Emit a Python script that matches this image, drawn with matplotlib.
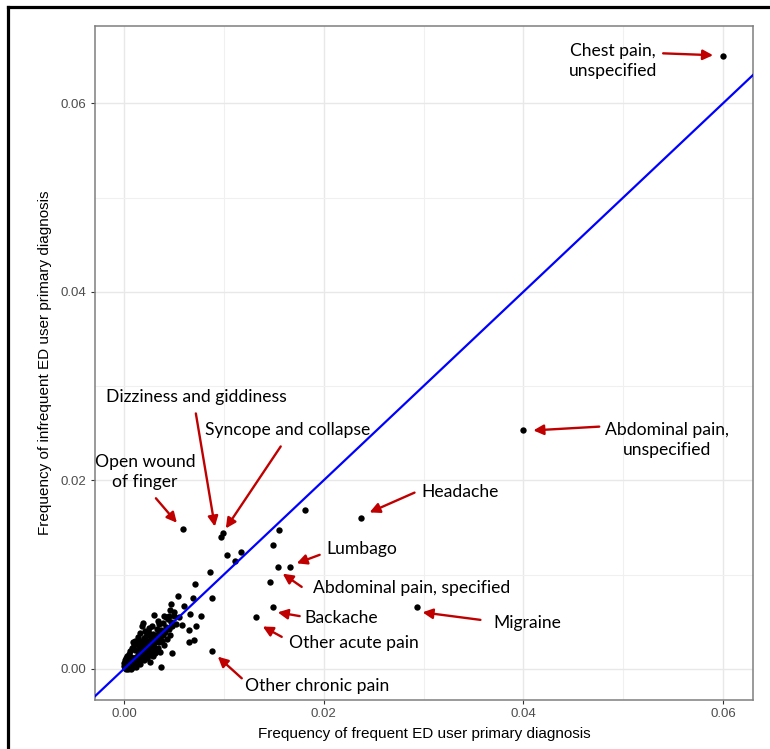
import matplotlib
matplotlib.use("Agg")
import matplotlib.pyplot as plt
from matplotlib.lines import Line2D
from matplotlib.ticker import MultipleLocator

# ---- data (frequency of diagnosis among frequent / infrequent ED users) ----
freq_frequent = [
    0.0600, 0.0400, 0.0237, 0.0293, 0.0166, 0.0154, 0.0146, 0.0149, 0.0132, 0.0088,
    0.0099, 0.0097, 0.0059, 0.0181, 0.0155, 0.0149, 0.0103, 0.0117, 0.0111, 0.0086,
    0.0071, 0.0054, 0.0069, 0.0088, 0.0047, 0.0060, 0.0066, 0.0077, 0.0030, 0.0045,
    0.0042, 0.0050, 0.0072, 0.0065, 0.0058, 0.0018, 0.0019, 0.0070, 0.0065, 0.0048,
    0.0037, 0.0026,
    0.0001, 0.0002, 0.0002, 0.0003, 0.0003, 0.0004, 0.0004, 0.0005, 0.0005, 0.0006,
    0.0006, 0.0007, 0.0007, 0.0008, 0.0008, 0.0009, 0.0009, 0.0010, 0.0010, 0.0010,
    0.0011, 0.0011, 0.0012, 0.0012, 0.0013, 0.0013, 0.0014, 0.0014, 0.0015, 0.0015,
    0.0016, 0.0016, 0.0017, 0.0017, 0.0018, 0.0018, 0.0019, 0.0019, 0.0020, 0.0020,
    0.0021, 0.0021, 0.0022, 0.0022, 0.0023, 0.0024, 0.0024, 0.0025, 0.0026, 0.0026,
    0.0027, 0.0028, 0.0028, 0.0029, 0.0030, 0.0030, 0.0031, 0.0032, 0.0032, 0.0033,
    0.0034, 0.0035, 0.0036, 0.0037, 0.0038, 0.0039, 0.0040, 0.0041, 0.0042, 0.0043,
    0.0045, 0.0046, 0.0048, 0.0000, 0.0000, 0.0001, 0.0002, 0.0003, 0.0005, 0.0006,
    0.0008, 0.0010, 0.0011, 0.0013, 0.0015, 0.0017, 0.0018, 0.0020, 0.0022, 0.0023,
    0.0025, 0.0027, 0.0012, 0.0016, 0.0020, 0.0023, 0.0026, 0.0029, 0.0031, 0.0034,
    0.0036, 0.0004, 0.0007, 0.0009, 0.0003, 0.0005, 0.0007, 0.0014, 0.0019, 0.0024,
    0.0029, 0.0033, 0.0035, 0.0028, 0.0039, 0.0044, 0.0040, 0.0034, 0.0047, 0.0052,
    0.0055, 0.0050, 0.0046, 0.0011, 0.0014, 0.0009, 0.0016, 0.0021, 0.0025,
]
freq_infrequent = [
    0.0650, 0.0253, 0.0160, 0.0066, 0.0108, 0.0108, 0.0092, 0.0066, 0.0055, 0.0019,
    0.0144, 0.0140, 0.0148, 0.0169, 0.0147, 0.0131, 0.0121, 0.0124, 0.0114, 0.0103,
    0.0090, 0.0077, 0.0075, 0.0075, 0.0069, 0.0067, 0.0058, 0.0056, 0.0057, 0.0056,
    0.0055, 0.0056, 0.0046, 0.0041, 0.0047, 0.0046, 0.0049, 0.0031, 0.0029, 0.0017,
    0.0002, 0.0007,
    0.0001, 0.0000, 0.0003, 0.0002, 0.0005, 0.0003, 0.0006, 0.0004, 0.0002, 0.0005,
    0.0008, 0.0006, 0.0003, 0.0009, 0.0005, 0.0007, 0.0011, 0.0008, 0.0012, 0.0004,
    0.0010, 0.0006, 0.0013, 0.0009, 0.0011, 0.0007, 0.0015, 0.0012, 0.0010, 0.0017,
    0.0014, 0.0009, 0.0018, 0.0012, 0.0015, 0.0022, 0.0017, 0.0011, 0.0021, 0.0016,
    0.0019, 0.0026, 0.0014, 0.0023, 0.0020, 0.0025, 0.0017, 0.0022, 0.0028, 0.0019,
    0.0024, 0.0031, 0.0020, 0.0026, 0.0033, 0.0023, 0.0029, 0.0035, 0.0021, 0.0030,
    0.0037, 0.0028, 0.0033, 0.0041, 0.0030, 0.0036, 0.0025, 0.0039, 0.0044, 0.0032,
    0.0042, 0.0036, 0.0046, 0.0003, 0.0006, 0.0009, 0.0012, 0.0014, 0.0016, 0.0019,
    0.0022, 0.0025, 0.0020, 0.0028, 0.0024, 0.0030, 0.0027, 0.0033, 0.0035, 0.0030,
    0.0038, 0.0034, 0.0002, 0.0005, 0.0009, 0.0012, 0.0015, 0.0014, 0.0017, 0.0022,
    0.0018, 0.0000, 0.0000, 0.0002, 0.0008, 0.0010, 0.0013, 0.0019, 0.0024, 0.0029,
    0.0037, 0.0042, 0.0048, 0.0045, 0.0049, 0.0053, 0.0056, 0.0051, 0.0050, 0.0048,
    0.0055, 0.0060, 0.0063, 0.0030, 0.0034, 0.0028, 0.0038, 0.0040, 0.0043,
]

# ---- annotations: label, text position, arrow tail, arrow head, alignment ----
ann_labels = ["Chest pain,\nunspecified", "Abdominal pain,\nunspecified", "Headache",
              "Lumbago", "Abdominal pain, specified", "Backache", "Other acute pain",
              "Other chronic pain", "Migraine", "Dizziness and giddiness",
              "Syncope and collapse", "Open wound\nof finger"]
ann_text_xy = [(0.0490, 0.0645), (0.0544, 0.0243), (0.0298, 0.0188), (0.0203, 0.0127),
               (0.0189, 0.0086), (0.0181, 0.0054), (0.0165, 0.0027), (0.0121, -0.0018),
               (0.0370, 0.0049), (-0.0018, 0.0288), (0.0081, 0.0253), (0.0021, 0.0209)]
ann_tail_xy = [(0.0540, 0.0653), (0.0476, 0.0257), (0.0291, 0.0187), (0.0196, 0.0121),
               (0.0178, 0.0087), (0.0176, 0.0056), (0.0158, 0.0034), (0.0118, -0.0010),
               (0.0357, 0.0052), (0.0072, 0.0271), (0.0157, 0.0236), (0.0032, 0.0181)]
ann_head_xy = [(0.0590, 0.0651), (0.0410, 0.0253), (0.0246, 0.0166), (0.0173, 0.0112),
               (0.0159, 0.0101), (0.0154, 0.0060), (0.0139, 0.0045), (0.0094, 0.0013),
               (0.0299, 0.0060), (0.0091, 0.0151), (0.0102, 0.0149), (0.0053, 0.0155)]
ann_ha = ["center", "center", "left", "left", "left", "left", "left", "left", "left",
          "left", "left", "center"]

x_ticks = [0.00, 0.02, 0.04, 0.06]
y_ticks = [0.00, 0.02, 0.04, 0.06]
x_label = "Frequency of frequent ED user primary diagnosis"
y_label = "Frequency of infrequent ED user primary diagnosis"

# ---- figure ----
fig = plt.figure(figsize=(7.70, 7.49), dpi=100)
ax = fig.add_axes([95 / 770, 49 / 749, 658 / 770, 674 / 749])

xlim = (-0.0029, 0.0630)
ylim = (-0.0033, 0.0682)
ax.set_xlim(*xlim)
ax.set_ylim(*ylim)

ax.xaxis.set_minor_locator(MultipleLocator(0.01))
ax.yaxis.set_minor_locator(MultipleLocator(0.01))
ax.set_xticks(x_ticks)
ax.set_yticks(y_ticks)
ax.set_xticklabels([f"{v:.2f}" for v in x_ticks])
ax.set_yticklabels([f"{v:.2f}" for v in y_ticks])
ax.grid(True, which="major", color="#e8e8e8", lw=1.0, zorder=0)
ax.grid(True, which="minor", color="#f0f0f0", lw=0.8, zorder=0)
ax.set_axisbelow(True)
ax.tick_params(which="major", length=3, width=0.8, color="#333333",
               labelsize=9.5, labelcolor="#4d4d4d", pad=3)
ax.tick_params(which="minor", length=0)
for lab in ax.get_xticklabels() + ax.get_yticklabels():
    lab.set_family("Liberation Sans")
for sp in ax.spines.values():
    sp.set_color("#7f7f7f")
    sp.set_linewidth(1.1)

ax.scatter(freq_frequent, freq_infrequent, s=21, color="black", lw=0, zorder=3)
ax.axline((0, 0), slope=1, color="#0000ff", lw=1.6, zorder=4)

for lab, txy, tail, head, ha in zip(ann_labels, ann_text_xy, ann_tail_xy, ann_head_xy, ann_ha):
    ax.text(txy[0], txy[1], lab, ha=ha, va="center", fontsize=12.6, family="Lato",
            color="black", linespacing=1.28, multialignment="center", zorder=5)
    ax.annotate("", xy=head, xytext=tail,
                arrowprops=dict(arrowstyle="-|>", color="#c00000", lw=1.7,
                                mutation_scale=15, shrinkA=0, shrinkB=0),
                zorder=5)

ax.set_xlabel(x_label, fontsize=11, family="Liberation Sans", color="black")
ax.set_ylabel(y_label, fontsize=11, family="Liberation Sans", color="black")
ax.xaxis.set_label_coords(0.5, -0.040)
ax.yaxis.set_label_coords(-0.066, 0.5)

# outer frame (top and left)
fig.add_artist(Line2D([8 / 770, 1.0], [1 - 7 / 749, 1 - 7 / 749], color="black", lw=2.3,
                      transform=fig.transFigure))
fig.add_artist(Line2D([8 / 770, 8 / 770], [0.0, 1 - 7 / 749], color="black", lw=2.3,
                      transform=fig.transFigure))

fig.savefig("out.png", dpi=100)
